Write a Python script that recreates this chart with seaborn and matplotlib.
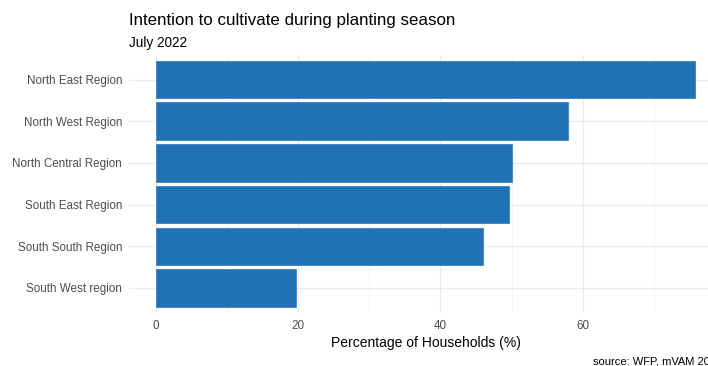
import matplotlib
matplotlib.use("Agg")
import matplotlib.pyplot as plt
import seaborn as sns
import pandas as pd
from matplotlib.ticker import MultipleLocator

# data
regions = ["North East Region", "North West Region", "North Central Region",
           "South East Region", "South South Region", "South West region"]
pct_households = [75.8, 57.9, 50.1, 49.7, 46.0, 19.7]

df = pd.DataFrame({"region": regions, "pct": pct_households})

sns.set_theme(style="white")
plt.rcParams["font.family"] = ["Liberation Sans", "DejaVu Sans"]

W, H = 708, 366
fig = plt.figure(figsize=(W / 100, H / 100), dpi=100)

# panel spans past the right edge, as in the cropped reference
left, right, top, bottom = 129, 722, 54.5, 313
ax = fig.add_axes([left / W, 1 - bottom / H, (right - left) / W, (bottom - top) / H])

sns.barplot(data=df, x="pct", y="region", orient="h", color="#2171b5",
            saturation=1, width=0.9, edgecolor="#3a82c0", linewidth=0.6,
            ax=ax, zorder=3)

xmax = max(pct_households)
ax.set_xlim(-0.05 * xmax, xmax * 1.05)
ax.set_ylim(len(regions) - 0.4, -0.6)

ax.xaxis.set_major_locator(MultipleLocator(20))
ax.xaxis.set_minor_locator(MultipleLocator(10))
ax.grid(True, which="major", axis="both", color="#ebebeb", lw=0.9, zorder=0)
ax.grid(True, which="minor", axis="x", color="#f2f2f2", lw=0.6, zorder=0)
ax.set_axisbelow(True)
for s in ax.spines.values():
    s.set_visible(False)

ax.tick_params(axis="both", which="both", length=0, labelsize=8.4, labelcolor="#4d4d4d")
ax.tick_params(axis="y", pad=5)
ax.tick_params(axis="x", pad=5)
ax.set_ylabel("")
ax.set_xlabel("Percentage of Households (%)", fontsize=10, color="black", labelpad=3)

fig.text(left / W, 1 - 20 / H, "Intention to cultivate during planting season",
         fontsize=12.2, color="black", ha="left", va="center")
fig.text(left / W, 1 - 43 / H, "July 2022", fontsize=9.8, color="black",
         ha="left", va="center")
fig.text(right / W, 1 - 361 / H, "source: WFP, mVAM 2022", fontsize=8,
         color="black", ha="right", va="center")

fig.savefig("out.png", dpi=100)
